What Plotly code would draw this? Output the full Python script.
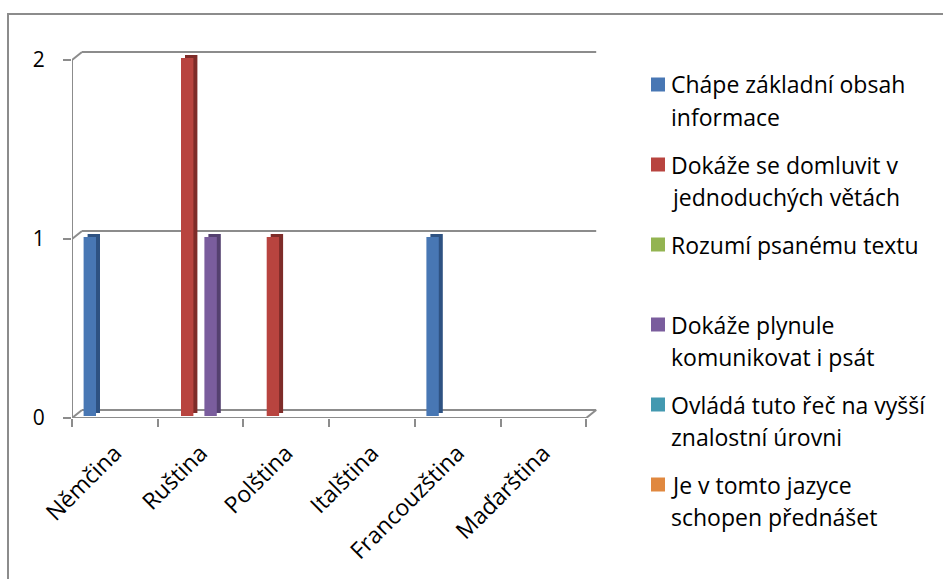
import plotly.graph_objects as go

# --- data -------------------------------------------------------------
languages = ["Němčina", "Ruština", "Polština", "Italština", "Francouzština", "Maďarština"]

series_lines = [
    ["Chápe základní obsah", "informace"],
    ["Dokáže se domluvit v", "jednoduchých větách"],
    ["Rozumí psanému textu"],
    ["Dokáže plynule", "komunikovat i psát"],
    ["Ovládá tuto řeč na vyšší", "znalostní úrovni"],
    ["Je v tomto jazyce", "schopen přednášet"],
]

chape = [1, 0, 0, 0, 1, 0]
domluvit = [0, 2, 1, 0, 0, 0]
rozumi = [0, 0, 0, 0, 0, 0]
plynule = [0, 1, 0, 0, 0, 0]
ovlada = [0, 0, 0, 0, 0, 0]
prednaset = [0, 0, 0, 0, 0, 0]
series_values = [chape, domluvit, rozumi, plynule, ovlada, prednaset]

y_ticks = [0, 1, 2]

# --- styling ----------------------------------------------------------
front_colors = ["#4877B4", "#B8443F", "#93B451", "#7A5D9D", "#4399B0", "#E0883F"]
side_colors = ["#2E5282", "#7E2C29", "#66803A", "#54406F", "#2D6B7D", "#A2602B"]
grid_color = "#8C8C8C"
font_family = "Open Sans, Lato, sans-serif"

W, H = 943, 579
L_PX, R_PX = 72, 602          # plot area, horizontal pixels
T_PX, B_PX = 30, 418          # plot area, vertical pixels
CAT_PX = 85.7                 # one category slot in pixels
UNIT_PX = 179.0               # one value unit in pixels

x_range = [-0.5, -0.5 + (R_PX - L_PX) / CAT_PX]
y_range = [0, (B_PX - T_PX) / UNIT_PX]

px_x = 1.0 / CAT_PX           # one pixel in category units
px_y = 1.0 / UNIT_PX          # one pixel in value units
depth_x, depth_y = 10 * px_x, 8 * px_y   # back-wall offset


def paper_x(px):
    return (px - L_PX) / (R_PX - L_PX)


def paper_y(py):
    return (B_PX - py) / (B_PX - T_PX)


fig = go.Figure()

bar_w = 12.4 * px_x
for s, vals in enumerate(series_values):
    left = (-31.25 + s * 11.7) * px_x
    base = 2 * px_y
    # side / top depth of each column
    fig.add_trace(go.Bar(
        x=languages, y=vals, base=base + 3 * px_y,
        offset=left + 4 * px_x, width=bar_w,
        marker=dict(color=side_colors[s], line=dict(width=0)),
        showlegend=False, hoverinfo="skip",
    ))
    # front face
    fig.add_trace(go.Bar(
        x=languages, y=vals, base=base,
        offset=left, width=bar_w,
        name=" ".join(series_lines[s]),
        marker=dict(color=front_colors[s], line=dict(width=0)),
        showlegend=False,
    ))

shapes = []
line = dict(color=grid_color, width=2)
# back wall gridlines with their left connectors
for v in y_ticks:
    shapes.append(dict(type="line", xref="x", yref="y",
                       x0=-0.5 + depth_x, x1=5.5 + depth_x,
                       y0=v + depth_y, y1=v + depth_y, line=line, layer="below"))
    shapes.append(dict(type="line", xref="x", yref="y",
                       x0=-0.5, x1=-0.5 + depth_x,
                       y0=v, y1=v + depth_y, line=line, layer="below"))
# floor: front edge and right connector
shapes.append(dict(type="line", xref="x", yref="y", x0=-0.5, x1=5.5, y0=0, y1=0,
                   line=line, layer="below"))
shapes.append(dict(type="line", xref="x", yref="y", x0=5.5, x1=5.5 + depth_x,
                   y0=0, y1=depth_y, line=line, layer="below"))
# front value axis
shapes.append(dict(type="line", xref="x", yref="y", x0=-0.5, x1=-0.5,
                   y0=0, y1=y_ticks[-1], line=line, layer="below"))
# chart border
shapes.append(dict(type="rect", xref="paper", yref="paper",
                   x0=paper_x(8), x1=paper_x(960), y0=paper_y(600), y1=paper_y(14),
                   line=dict(color=grid_color, width=2), fillcolor="rgba(0,0,0,0)",
                   layer="below"))

# legend: swatch + wrapped text per series
annotations = []
for s, lines in enumerate(series_lines):
    cy = 84.5 + 80 * s
    shapes.append(dict(type="rect", xref="paper", yref="paper",
                       x0=paper_x(651), x1=paper_x(665),
                       y0=paper_y(cy + 7), y1=paper_y(cy - 7),
                       fillcolor=front_colors[s], line=dict(width=0)))
    for k, txt in enumerate(lines):
        annotations.append(dict(
            xref="paper", yref="paper", x=paper_x(669), y=paper_y(cy + 32 * k),
            xanchor="left", yanchor="middle", text=txt, showarrow=False,
            font=dict(family=font_family, size=23, color="#000000"),
        ))

fig.update_layout(
    width=W, height=H,
    margin=dict(l=L_PX, r=W - R_PX, t=T_PX, b=H - B_PX, pad=0, autoexpand=False),
    paper_bgcolor="#FFFFFF", plot_bgcolor="rgba(0,0,0,0)",
    barmode="overlay",
    showlegend=False,
    shapes=shapes, annotations=annotations,
    font=dict(family=font_family, color="#000000"),
    xaxis=dict(
        type="category", range=x_range, categoryorder="array", categoryarray=languages,
        showgrid=False, zeroline=False, showline=False, automargin=False,
        tickson="boundaries", ticks="outside", ticklen=8, tickwidth=2, tickcolor=grid_color,
        ticklabelstandoff=16,
        tickangle=-45, tickfont=dict(size=23, family=font_family, color="#000000"),
        fixedrange=True,
    ),
    yaxis=dict(
        range=y_range, tickmode="array", tickvals=y_ticks, ticktext=[str(v) for v in y_ticks],
        showgrid=False, zeroline=False, showline=False, automargin=False,
        ticks="outside", ticklen=8, tickwidth=2, tickcolor=grid_color,
        ticklabelstandoff=14,
        tickfont=dict(size=21, family=font_family, color="#000000"),
        fixedrange=True,
    ),
)

fig.write_html("out.html")
